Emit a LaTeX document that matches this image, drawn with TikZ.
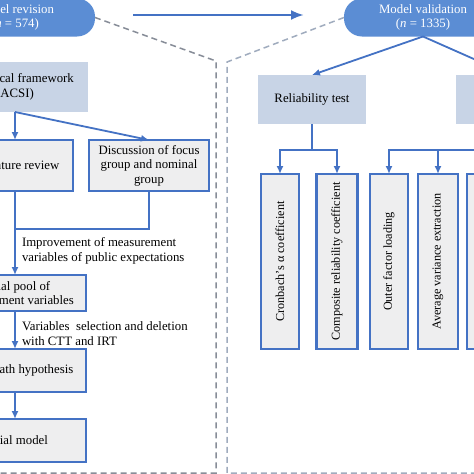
\documentclass[tikz,border=0pt]{standalone}
\usepackage{fontspec}
\setmainfont{Liberation Serif}
\usepackage{graphicx}
\usetikzlibrary{arrows.meta}
\definecolor{bblue}{RGB}{68,114,196}
\definecolor{pillblue}{RGB}{91,141,212}
\definecolor{lbg}{RGB}{200,212,230}
\definecolor{boxg}{RGB}{238,238,239}
\definecolor{dashl}{RGB}{135,141,152}
\definecolor{dashr}{RGB}{160,172,190}
\begin{document}
\begin{tikzpicture}[x=1pt,y=-1pt,
  every node/.style={font=\fontsize{12.8}{14.5}\selectfont, inner sep=0pt, outer sep=0pt},
  pill/.style={fill=pillblue, rounded corners=18pt, text=white, align=center, minimum height=38pt},
  headbox/.style={fill=lbg, align=center},
  stepbox/.style={draw=bblue, line width=2.2pt, fill=boxg, align=center},
  vbox/.style={draw=bblue, line width=2.2pt, fill=boxg, minimum height=175pt, font=\fontsize{12.2}{14}\selectfont},
  conn/.style={draw=bblue, line width=1.8pt},
  arr/.style={conn, -{Latex[length=8pt,width=7pt]}},
  bigarr/.style={draw=bblue, line width=2.6pt, -{Latex[length=13pt,width=10pt]}},
  note/.style={align=left, anchor=west},
  dashL/.style={draw=dashl, line width=1.5pt, dash pattern=on 6pt off 4pt},
  dashR/.style={draw=dashr, line width=1.5pt, dash pattern=on 6pt off 4pt}
]
\useasboundingbox (0,0) rectangle (474,474);
\clip (0,0) rectangle (474,474);
\fill[white] (0,0) rectangle (474,474);

% pills
\node[pill, minimum width=160pt] (mr) at (15,17.5) {Model revision\\(\textit{n} = 574)};
\node[pill, minimum width=158pt] (mv) at (423,17.5) {Model validation\\(\textit{n} = 1335)};

% dashed frames
\coordinate (lc) at (216,61);
\coordinate (lb) at (216,473);
\coordinate (le) at (-10,473);
\draw[dashL] (mr.east) -- (lc) -- (lb) -- (le);
\coordinate (rc) at (227,62);
\coordinate (rbm) at (227,473);
\coordinate (re) at (484,473);
\draw[dashR] (mv.west) -- (rc) -- (rbm) -- (re);

% big arrow
\draw[bigarr, shorten <=38pt, shorten >=40pt] ([yshift=2.5pt]mr.east) -- ([yshift=2.5pt]mv.west);

% left panel
\node[headbox, minimum width=146pt, minimum height=50pt] (fw) at (15,87) {Theoretical framework\\(ACSI)};
\node[stepbox, minimum width=116pt, minimum height=51pt] (lit) at (15,165.5) {Literature review};
\node[stepbox, minimum width=120pt, minimum height=51pt] (disc) at (149,165.5) {Discussion of focus\\group and nominal\\group};
\node[stepbox, minimum width=142pt, minimum height=36pt] (pool) at (15,293) {Initial pool of\\measurement variables};
\node[stepbox, minimum width=142pt, minimum height=43pt] (path) at (15,370.5) {Model path hypothesis};
\node[stepbox, minimum width=142pt, minimum height=43pt] (init) at (15,440.5) {Initial model};

\draw[arr] (fw.south) -- (lit.north);
\draw[arr] (fw.south) -- (disc.north);
\coordinate (j1) at (15,229);
\draw[conn] (disc.south) |- (j1);
\draw[arr] (lit.south) -- (pool.north);
\draw[arr] (pool.south) -- (path.north);
\draw[arr] (path.south) -- (init.north);

\node[note] (lab1) at (22,251) {Improvement of measurement\\variables of public expectations};
\node[note] (lab2) at (22,333.5) {Variables \ selection and deletion\\with CTT and IRT};

% right panel
\node[headbox, minimum width=108pt, minimum height=49pt] (rel) at (312,99.5) {Reliability test};
\node[headbox, minimum width=108pt, minimum height=49pt] (val) at (510,99.5) {};

\node[vbox, minimum width=38pt] (c1) at (280,261.5) {\rotatebox{90}{Cronbach's α coefficient}};
\node[vbox, minimum width=41pt] (c2) at (337,261.5) {\rotatebox{90}{Composite reliability coefficient}};
\node[vbox, minimum width=38pt] (c3) at (389,261.5) {\rotatebox{90}{Outer factor loading}};
\node[vbox, minimum width=40pt] (c4) at (438,261.5) {\rotatebox{90}{Average variance extraction}};
\node[vbox, minimum width=40pt] (c5) at (487,261.5) {};

\draw[arr] (mv.south) -- (rel.north);
\draw[arr] (mv.south) -- (val.north);
\coordinate (rb) at (312,150);
\coordinate (vb) at (510,150);
\draw[conn] (rel.south) -- (rb);
\draw[arr] (rb) -| (c1.north);
\draw[arr] (rb) -| (c2.north);
\draw[conn] (val.south) -- (vb);
\draw[arr] (vb) -| (c3.north);
\draw[arr] (vb) -| (c4.north);
\draw[arr] (vb) -| (c5.north);
\end{tikzpicture}
\end{document}
